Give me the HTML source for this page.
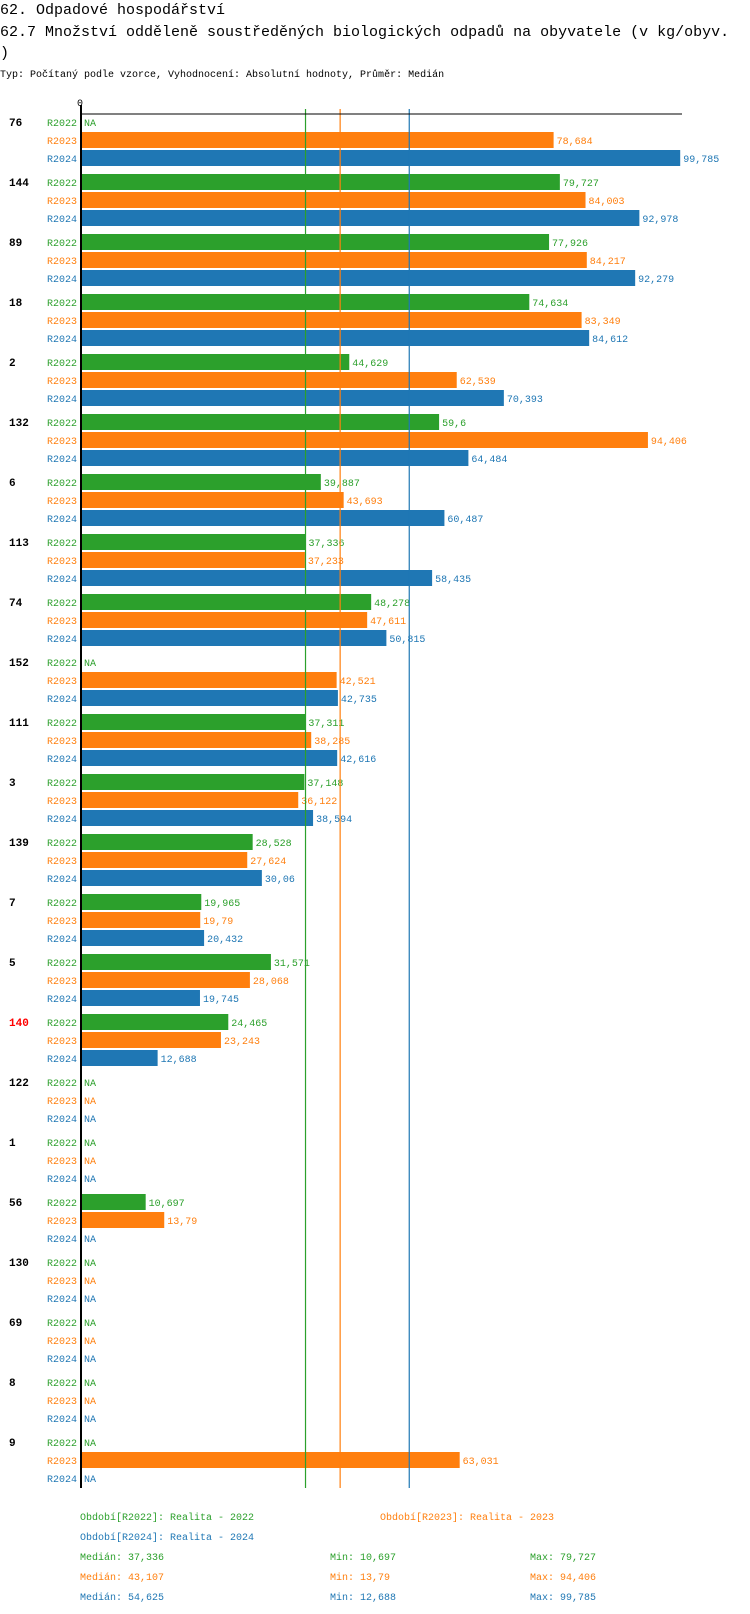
<!DOCTYPE html>
<html><head><meta charset="utf-8"><style>
body{margin:0;background:#fff;width:750px;height:1614px;overflow:hidden;font-family:"Liberation Mono",monospace}
svg{display:block}
text{font-family:"Liberation Mono","DejaVu Sans Mono",monospace}
</style></head><body>
<svg id="chart" width="750" height="1614" xmlns="http://www.w3.org/2000/svg">
<text x="0" y="14" font-size="15">62. Odpadové hospodářství</text>
<text x="0" y="36" font-size="15">62.7 Množství odděleně soustředěných biologických odpadů na obyvatele (v kg/obyv.</text>
<text x="0" y="57" font-size="15">)</text>
<text x="0" y="77" font-size="10">Typ: Počítaný podle vzorce, Vyhodnocení: Absolutní hodnoty, Průměr: Medián</text>
<text x="77" y="106" font-size="10">0</text>
<g id="bars"></g>
</svg>
<script>
const categories=["76","144","89","18","2","132","6","113","74","152","111","3","139","7","5","140","122","1","56","130","69","8","9"];
const v2022=[null,79.727,77.926,74.634,44.629,59.6,39.887,37.336,48.278,null,37.311,37.148,28.528,19.965,31.571,24.465,null,null,10.697,null,null,null,null];
const v2023=[78.684,84.003,84.217,83.349,62.539,94.406,43.693,37.233,47.611,42.521,38.285,36.122,27.624,19.79,28.068,23.243,null,null,13.79,null,null,null,63.031];
const v2024=[99.785,92.978,92.279,84.612,70.393,64.484,60.487,58.435,50.815,42.735,42.616,38.594,30.06,20.432,19.745,12.688,null,null,null,null,null,null,null];
const seriesNames=["R2022","R2023","R2024"];
const medians=[37.336,43.107,54.625];
const mins=["10,697","13,79","12,688"];
const maxs=["79,727","94,406","99,785"];
const medLabels=["37,336","43,107","54,625"];
const highlight="140";
const colors=["#2ca02c","#ff7f0e","#1f77b4"];
const NS="http://www.w3.org/2000/svg";
const X0=81.5, SCALE=6.0, TOP=114, GPITCH=60, RPITCH=18, BH=16;
const xs=v=>X0+v*SCALE;
const svg=document.getElementById('chart');
function mk(tag,attrs,txt){const e=document.createElementNS(NS,tag);for(const k in attrs)e.setAttribute(k,attrs[k]);if(txt!==undefined)e.textContent=txt;svg.appendChild(e);return e;}
const all=[v2022,v2023,v2024];
const bottom=TOP+GPITCH*categories.length-6;
categories.forEach((c,i)=>{
  const gy=TOP+GPITCH*i;
  const gl=mk('text',{x:9,y:gy+12,'font-size':11,'font-weight':'bold',fill:c===highlight?'#ff0000':'#000'},c);
  
  
  all.forEach((arr,s)=>{
    const y=gy+s*RPITCH;
    const rl=mk('text',{x:77,y:y+12,'font-size':10,'text-anchor':'end',fill:colors[s]},seriesNames[s]);
    
    
    const v=arr[i];
    if(v===null){
      const na=mk('text',{x:84,y:y+12,'font-size':10,fill:colors[s]},'NA');
      
      
    } else {
      const r=mk('rect',{x:82,y:y,width:xs(v)-82,height:BH,fill:colors[s]});
      
      
      const t=mk('text',{x:xs(v)+3,y:y+12,'font-size':10,fill:colors[s]},String(v).replace('.',','));
      
      
    }
  });
});
medians.forEach((m,s)=>{
  const l=mk('line',{x1:xs(m),x2:xs(m),y1:109,y2:bottom,stroke:colors[s],'stroke-width':1.2});
  
  
});
const ax=mk('line',{x1:81,x2:81,y1:105,y2:bottom,stroke:'#000','stroke-width':2});


const tl=mk('line',{x1:80,x2:682,y1:114,y2:114,stroke:'#000','stroke-width':1});


const legPos=[[80,1520],[380,1520],[80,1540]];
seriesNames.forEach((n,s)=>{
  const e=mk('text',{x:legPos[s][0],y:legPos[s][1],'font-size':10,fill:colors[s]},'Období['+n+']: Realita - '+n.slice(1));
  
  
  const yy=1560+20*s;
  const a=mk('text',{x:80,y:yy,'font-size':10,fill:colors[s]},'Medián: '+medLabels[s]);
  
  
  const b=mk('text',{x:330,y:yy,'font-size':10,fill:colors[s]},'Min: '+mins[s]);
  
  
  const d=mk('text',{x:530,y:yy,'font-size':10,fill:colors[s]},'Max: '+maxs[s]);
  
  
});
</script>
</body></html>
